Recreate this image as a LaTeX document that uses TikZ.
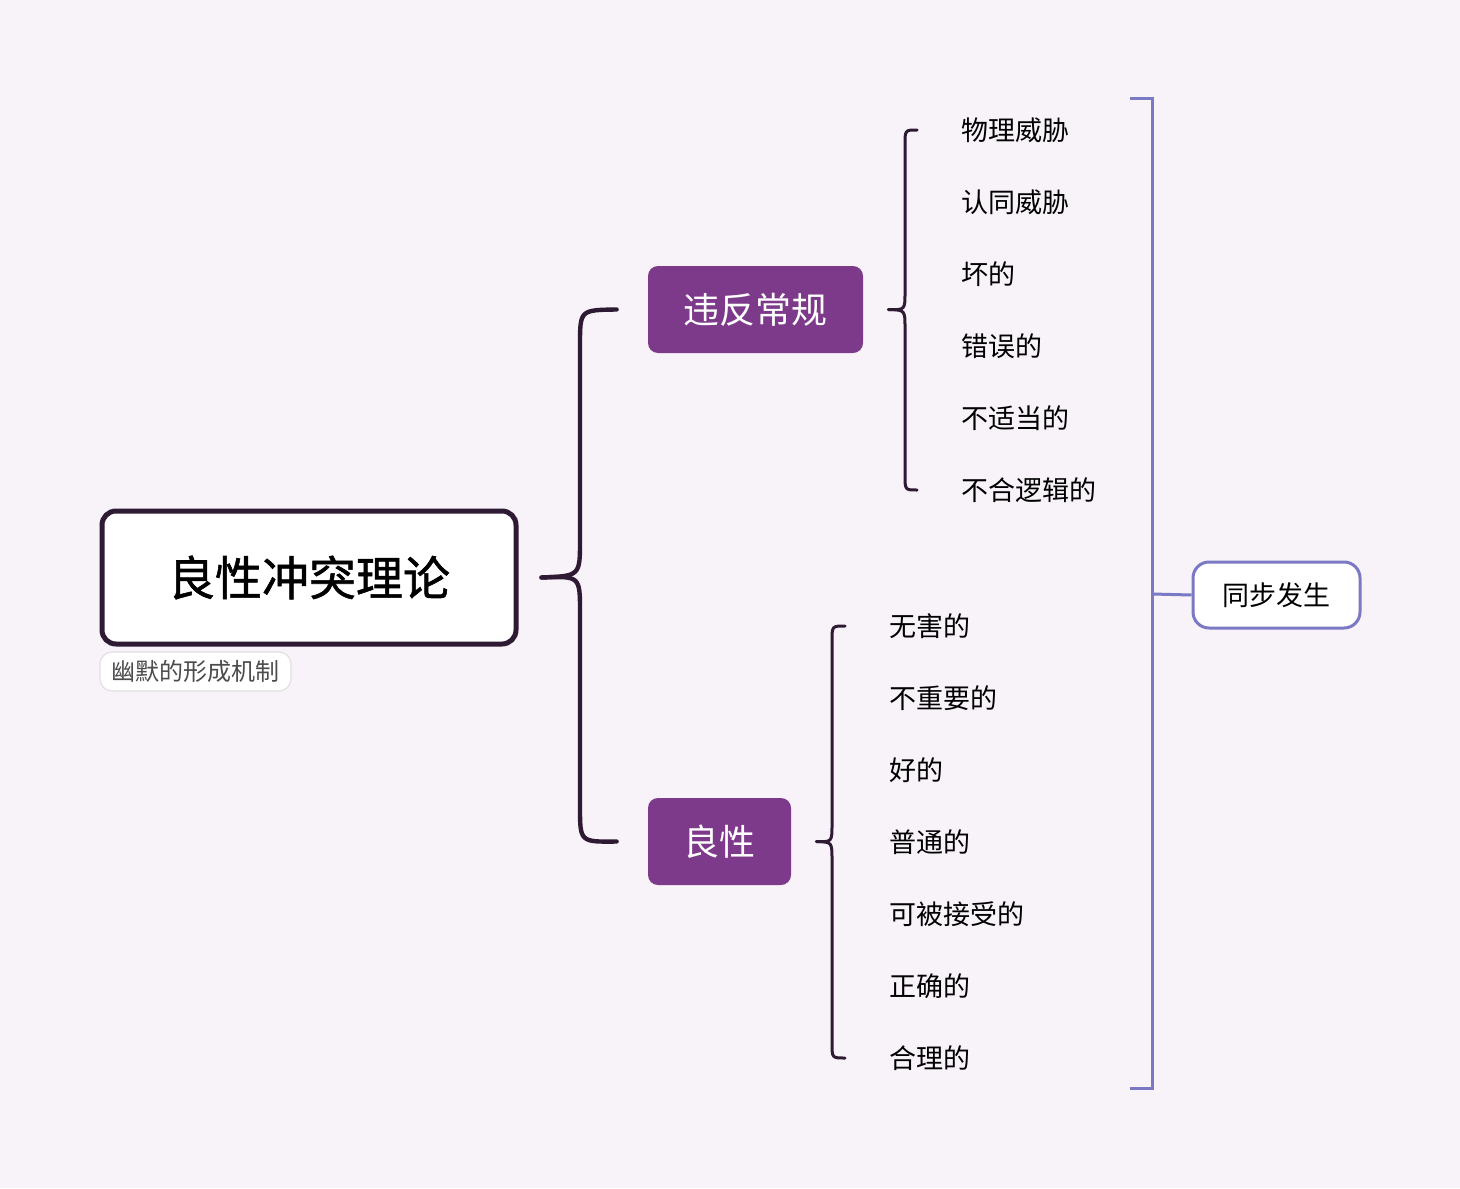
\documentclass[tikz,border=0pt]{standalone}
\usepackage{fontspec}
\setmainfont{Noto Sans CJK SC}
\newfontfamily\cjkb[FakeBold=1.2]{Noto Sans CJK SC}
\definecolor{bg}{HTML}{F8F3F9}
\definecolor{pur}{HTML}{7E3A8A}
\definecolor{dk}{HTML}{2E1A33}
\definecolor{bl}{HTML}{7B78C4}
\begin{document}
\begin{tikzpicture}[x=0.5pt,y=-0.5pt,
  leaf/.style={anchor=west,inner sep=0pt,font=\fontsize{13.5pt}{14pt}\selectfont},
  sub/.style={fill=pur,rounded corners=5pt,text=white,inner sep=0pt,font=\fontsize{18pt}{20pt}\selectfont},
  brace/.style={draw=dk,line width=1.5pt,line cap=round},
  bbrace/.style={draw=dk,line width=2.2pt,line cap=round}]
\useasboundingbox (0,0) rectangle (1460,1188);
\fill[bg] (0,0) rectangle (1460,1188);
\node[draw=dk,line width=2.5pt,rounded corners=7pt,fill=white,minimum width=207pt,minimum height=66.5pt,inner sep=0pt,font=\cjkb\fontsize{23.5pt}{25pt}\selectfont] (root) at (309,577.5) {良性冲突理论};
\node[draw=black!12,line width=0.6pt,rounded corners=6pt,fill=white,minimum width=95.5pt,minimum height=19.5pt,inner sep=0pt,text=black!70,font=\fontsize{12pt}{13pt}\selectfont] (lab) at (195.5,671.5) {幽默的形成机制};
\node[sub,minimum width=107.5pt,minimum height=43.5pt] (a) at (755.5,309.5) {违反常规};
\node[sub,minimum width=71.5pt,minimum height=43.5pt] (b) at (719.5,841.5) {良性};
\foreach \t [count=\i from 0] in {物理威胁,认同威胁,坏的,错误的,不适当的,不合逻辑的}
  \node[leaf] (a\i) at (961,{130+72*\i}) {\t};
\foreach \t [count=\i from 0] in {无害的,不重要的,好的,普通的,可被接受的,正确的,合理的}
  \node[leaf] (b\i) at (889,{626+72*\i}) {\t};
\node[draw=bl,line width=1.5pt,rounded corners=8pt,fill=white,minimum width=83.5pt,minimum height=33pt,inner sep=0pt,font=\fontsize{13.5pt}{14pt}\selectfont] (s) at (1276.5,595) {同步发生};
% root brace
\coordinate (rt) at ([xshift=11.5pt]root.east);
\draw[bbrace] ([xshift=-15.5pt]a.west) .. controls (580,310) .. (580,345) -- (580,540) .. controls (580,576) .. (rt);
\draw[bbrace] ([xshift=-15.5pt]b.west) .. controls (580,842) .. (580,807) -- (580,612) .. controls (580,576) .. (rt);
% group a brace
\coordinate (at) at ([xshift=12.5pt]a.east);
\draw[brace] ([xshift=-22pt]a0.west) .. controls (905,130) .. (905,145) -- (905,292) .. controls (905,310) .. (at);
\draw[brace] ([xshift=-22pt]a5.west) .. controls (905,490) .. (905,475) -- (905,328) .. controls (905,310) .. (at);
% group b brace
\coordinate (bt) at ([xshift=12.5pt]b.east);
\draw[brace] ([xshift=-22pt]b0.west) .. controls (832,626) .. (832,641) -- (832,824) .. controls (832,842) .. (bt);
\draw[brace] ([xshift=-22pt]b6.west) .. controls (832,1058) .. (832,1043) -- (832,860) .. controls (832,842) .. (bt);
% summary bracket
\draw[bl,line width=1.5pt] (1130,99) -- (1152,99) -- (1152,1088) -- (1130,1088);
\draw[bl,line width=1.5pt] (1152,594) -- (s.west);
\end{tikzpicture}
\end{document}
